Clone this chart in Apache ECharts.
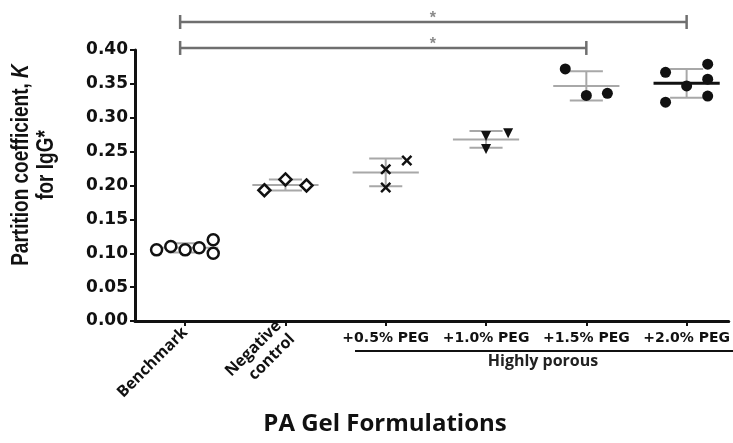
<!DOCTYPE html>
<html><head><meta charset="utf-8">
<script src="https://cdn.jsdelivr.net/npm/echarts@6/dist/echarts.min.js"></script>
<style>html,body{margin:0;padding:0;background:#fff}#c{width:733px;height:443px}</style>
</head><body><div id="c"></div>
<script>
// ---- data ----
const categories = ['Benchmark', 'Negative\ncontrol', '+0.5% PEG', '+1.0% PEG', '+1.5% PEG', '+2.0% PEG'];
const benchmark = [0.105, 0.110, 0.105, 0.108, 0.120, 0.100];
const negativeControl = [0.193, 0.209, 0.200];
const peg05 = [0.224, 0.237, 0.197];
const peg10 = [0.273, 0.277, 0.254];
const peg15 = [0.372, 0.333, 0.336];
const peg20 = [0.367, 0.379, 0.357, 0.347, 0.323, 0.332];
// horizontal scatter offsets (in category units) as in the original dot plot
const jitter = [
  [-0.285, -0.143, 0, 0.14, 0.28, 0.28],
  [-0.21, 0, 0.21],
  [0, 0.21, 0],
  [0, 0.22, 0],
  [-0.21, 0, 0.21],
  [-0.21, 0.21, 0.21, 0, -0.21, 0.21]
];
const yTickValues = [0, 0.05, 0.10, 0.15, 0.20, 0.25, 0.30, 0.35, 0.40];
// significance brackets: group indices and height (y value)
const brackets = [
  { from: 0, to: 5, level: 0.4413, label: '*' },
  { from: 0, to: 4, level: 0.403, label: '*' }
];

const groups = [benchmark, negativeControl, peg05, peg10, peg15, peg20];
const symbols = ['circle', 'diamond',
  'path://M0,1.6L1.6,0L5,3.4L8.4,0L10,1.6L6.6,5L10,8.4L8.4,10L5,6.6L1.6,10L0,8.4L3.4,5Z',
  'path://M0,0L10,0L5,10Z', 'circle', 'circle'];
const hollow = [true, true, false, false, false, false];
const sizes = [11, 12, 11, 10, 11, 11];

function stats(arr) {
  const m = arr.reduce((a, b) => a + b, 0) / arr.length;
  const sd = Math.sqrt(arr.reduce((a, b) => a + (b - m) * (b - m), 0) / (arr.length - 1));
  return { m, sd };
}

const chart = echarts.init(document.getElementById('c'));

const scatterSeries = groups.map((vals, i) => ({
  type: 'scatter',
  name: categories[i],
  xAxisIndex: 0, yAxisIndex: 0,
  symbol: symbols[i],
  symbolSize: sizes[i],
  z: 5,
  itemStyle: hollow[i]
    ? { color: '#fff', borderColor: '#111', borderWidth: 2.5, opacity: 1 }
    : { color: '#111', opacity: 1 },
  data: vals.map((v, j) => [i + jitter[i][j], v])
}));

const meanSeries = {
  type: 'custom',
  xAxisIndex: 0, yAxisIndex: 0,
  z: 3,
  silent: true,
  data: groups.map((g, i) => [i]),
  renderItem: function (params, api) {
    const i = api.value(0);
    const s = stats(groups[i]);
    const L = api.coord([i - 0.33, s.m]);
    const R = api.coord([i + 0.33, s.m]);
    const hi = s.m + s.sd, lo = s.m - s.sd;
    const sl = api.coord([i - 0.165, hi]), sr = api.coord([i + 0.165, hi]);
    const ll = api.coord([i - 0.165, lo]), lr = api.coord([i + 0.165, lo]);
    const vc = api.coord([i, hi]), vb = api.coord([i, lo]);
    const grey = '#a8a8a8';
    const isLast = i === groups.length - 1;
    return {
      type: 'group',
      children: [
        { type: 'line', shape: { x1: vc[0], y1: vc[1], x2: vb[0], y2: vb[1] }, style: { stroke: grey, lineWidth: 2 } },
        { type: 'line', shape: { x1: sl[0], y1: sl[1], x2: sr[0], y2: sr[1] }, style: { stroke: grey, lineWidth: 2 } },
        { type: 'line', shape: { x1: ll[0], y1: ll[1], x2: lr[0], y2: lr[1] }, style: { stroke: grey, lineWidth: 2 } },
        { type: 'line', shape: { x1: L[0], y1: L[1], x2: R[0], y2: R[1] }, style: { stroke: isLast ? '#111' : grey, lineWidth: isLast ? 3 : 2 } }
      ]
    };
  }
};

const bracketSeries = {
  type: 'custom',
  xAxisIndex: 0, yAxisIndex: 0,
  clip: false,
  silent: true,
  z: 4,
  data: brackets.map((b, k) => [k]),
  renderItem: function (params, api) {
    const b = brackets[api.value(0)];
    const a = api.coord([b.from - 0.05, b.level]);
    const c = api.coord([b.to, b.level]);
    const starX = api.coord([(brackets[0].from + brackets[0].to) / 2 - 0.03, b.level])[0];
    const col = '#6f6f6f';
    return {
      type: 'group',
      children: [
        { type: 'line', shape: { x1: a[0], y1: a[1], x2: c[0], y2: c[1] }, style: { stroke: col, lineWidth: 2.5 } },
        { type: 'line', shape: { x1: a[0], y1: a[1] - 7, x2: a[0], y2: a[1] + 7 }, style: { stroke: col, lineWidth: 2.5 } },
        { type: 'line', shape: { x1: c[0], y1: c[1] - 7, x2: c[0], y2: c[1] + 7 }, style: { stroke: col, lineWidth: 2.5 } },
        { type: 'text', style: { x: starX, y: a[1] + 5, text: b.label, fill: '#8a8a8a', font: 'bold 16px "Liberation Sans"', textAlign: 'center', textVerticalAlign: 'bottom' } }
      ]
    };
  }
};

const xBase = {
  type: 'value', gridIndex: 0, position: 'bottom',
  min: -0.5, max: 5.42,
  splitLine: { show: false }
};

chart.setOption({
  animation: false,
  backgroundColor: '#fff',
  grid: { left: 135, right: 0, top: 50, bottom: 122, containLabel: false },
  xAxis: [
    Object.assign({}, xBase, {
      axisLine: { show: true, onZero: false, lineStyle: { color: '#111', width: 3 } },
      axisTick: { show: true, length: 5, inside: false, customValues: [0, 1, 2, 3, 4, 5], lineStyle: { color: '#111', width: 2 } },
      axisLabel: {
        show: true, customValues: [2, 3, 4, 5], margin: 10,
        formatter: v => categories[Math.round(v)],
        fontFamily: 'DejaVu Sans', fontWeight: 'bold', fontSize: 14, color: '#111'
      }
    }),
    Object.assign({}, xBase, {
      axisLine: { show: false, onZero: false },
      axisTick: { show: false },
      axisLabel: {
        show: true, customValues: [0, 1], rotate: 45, margin: 9,
        formatter: v => categories[Math.round(v)],
        fontFamily: 'Open Sans', fontWeight: 'bold', fontSize: 16, lineHeight: 19, color: '#111'
      }
    })
  ],
  yAxis: {
    type: 'value', min: 0, max: 0.4, interval: 0.05,
    splitLine: { show: false },
    axisLine: { show: true, onZero: false, lineStyle: { color: '#111', width: 3 } },
    axisTick: { show: true, length: 5, lineStyle: { color: '#111', width: 2 } },
    axisLabel: {
      margin: 7, formatter: v => v.toFixed(2),
      customValues: yTickValues,
      fontFamily: 'DejaVu Sans', fontWeight: 'bold', fontSize: 17, color: '#111'
    }
  },
  series: [meanSeries, bracketSeries].concat(scatterSeries),
  graphic: [
    { type: 'text', x: 21, y: 165, rotation: Math.PI / 2, scaleY: 1.25,
      style: { text: '{a|Partition coefficient, }{k|K}', textAlign: 'center', textVerticalAlign: 'middle',
        rich: { a: { font: 'bold 19px "Liberation Sans"', fill: '#111' }, k: { font: 'italic bold 19px "Liberation Sans"', fill: '#111' } } } },
    { type: 'text', x: 46, y: 165, rotation: Math.PI / 2, scaleY: 1.25,
      style: { text: 'for IgG*', textAlign: 'center', textVerticalAlign: 'middle', font: 'bold 19px "Liberation Sans"', fill: '#111' } },
    { type: 'line', shape: { x1: 355, y1: 351, x2: 733, y2: 351 }, style: { stroke: '#111', lineWidth: 2 } },
    { type: 'text', x: 543, y: 361, style: { text: 'Highly porous', textAlign: 'center', textVerticalAlign: 'middle', font: 'bold 16px "Open Sans"', fill: '#222' } },
    { type: 'text', x: 385, y: 424, style: { text: 'PA Gel Formulations', textAlign: 'center', textVerticalAlign: 'middle', font: 'bold 24px "Open Sans"', fill: '#111' } }
  ]
});
</script>
</body></html>
